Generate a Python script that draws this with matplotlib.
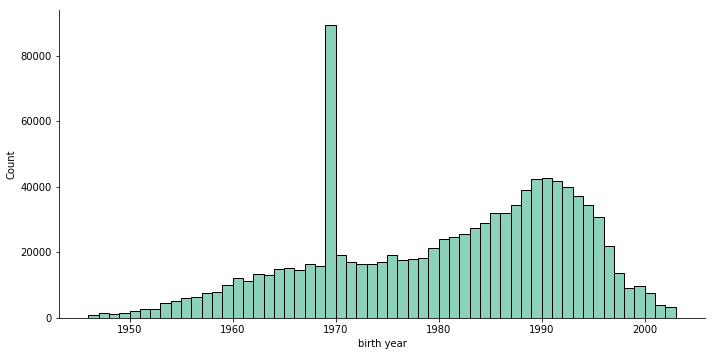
import matplotlib
matplotlib.use("Agg")
import matplotlib.pyplot as plt
import numpy as np

# One bin per birth year (left edge), counts.
years = np.arange(1946, 2003)
counts = [
    900, 1500, 1200, 1500, 2100, 2700, 2700, 4600, 5200, 6100,
    6400, 7600, 7900, 10000, 12200, 11300, 13400, 13100, 14900, 15200,
    14600, 16400, 15800, 89400, 19100, 17000, 16400, 16400, 17000, 19100,
    17600, 17900, 18200, 21300, 24100, 24700, 25600, 27500, 29000, 32100,
    32100, 34500, 39100, 42400, 42700, 41800, 40000, 37200, 34500, 30800,
    22000, 13700, 9200, 9800, 7600, 4000, 3400,
]

W, H, DPI = 717, 358, 72
fig = plt.figure(figsize=(W / DPI, H / DPI), dpi=DPI)
ax = fig.add_axes([59 / W, 1 - 318 / H, (705 - 59) / W, (318 - 10) / H])

ax.bar(years, counts, width=1.0, align="edge",
       color="#8cd1bb", edgecolor="black", linewidth=1.0)

ax.set_xlim(1946 - 0.05 * 57, 2003 + 0.05 * 57)
ax.set_ylim(0, max(counts) * 1.05)
ax.set_xticks([1950, 1960, 1970, 1980, 1990, 2000])
ax.set_yticks([0, 20000, 40000, 60000, 80000])
ax.set_xlabel("birth year")
ax.set_ylabel("Count")
ax.spines["top"].set_visible(False)
ax.spines["right"].set_visible(False)

fig.savefig("out.png", dpi=DPI)
